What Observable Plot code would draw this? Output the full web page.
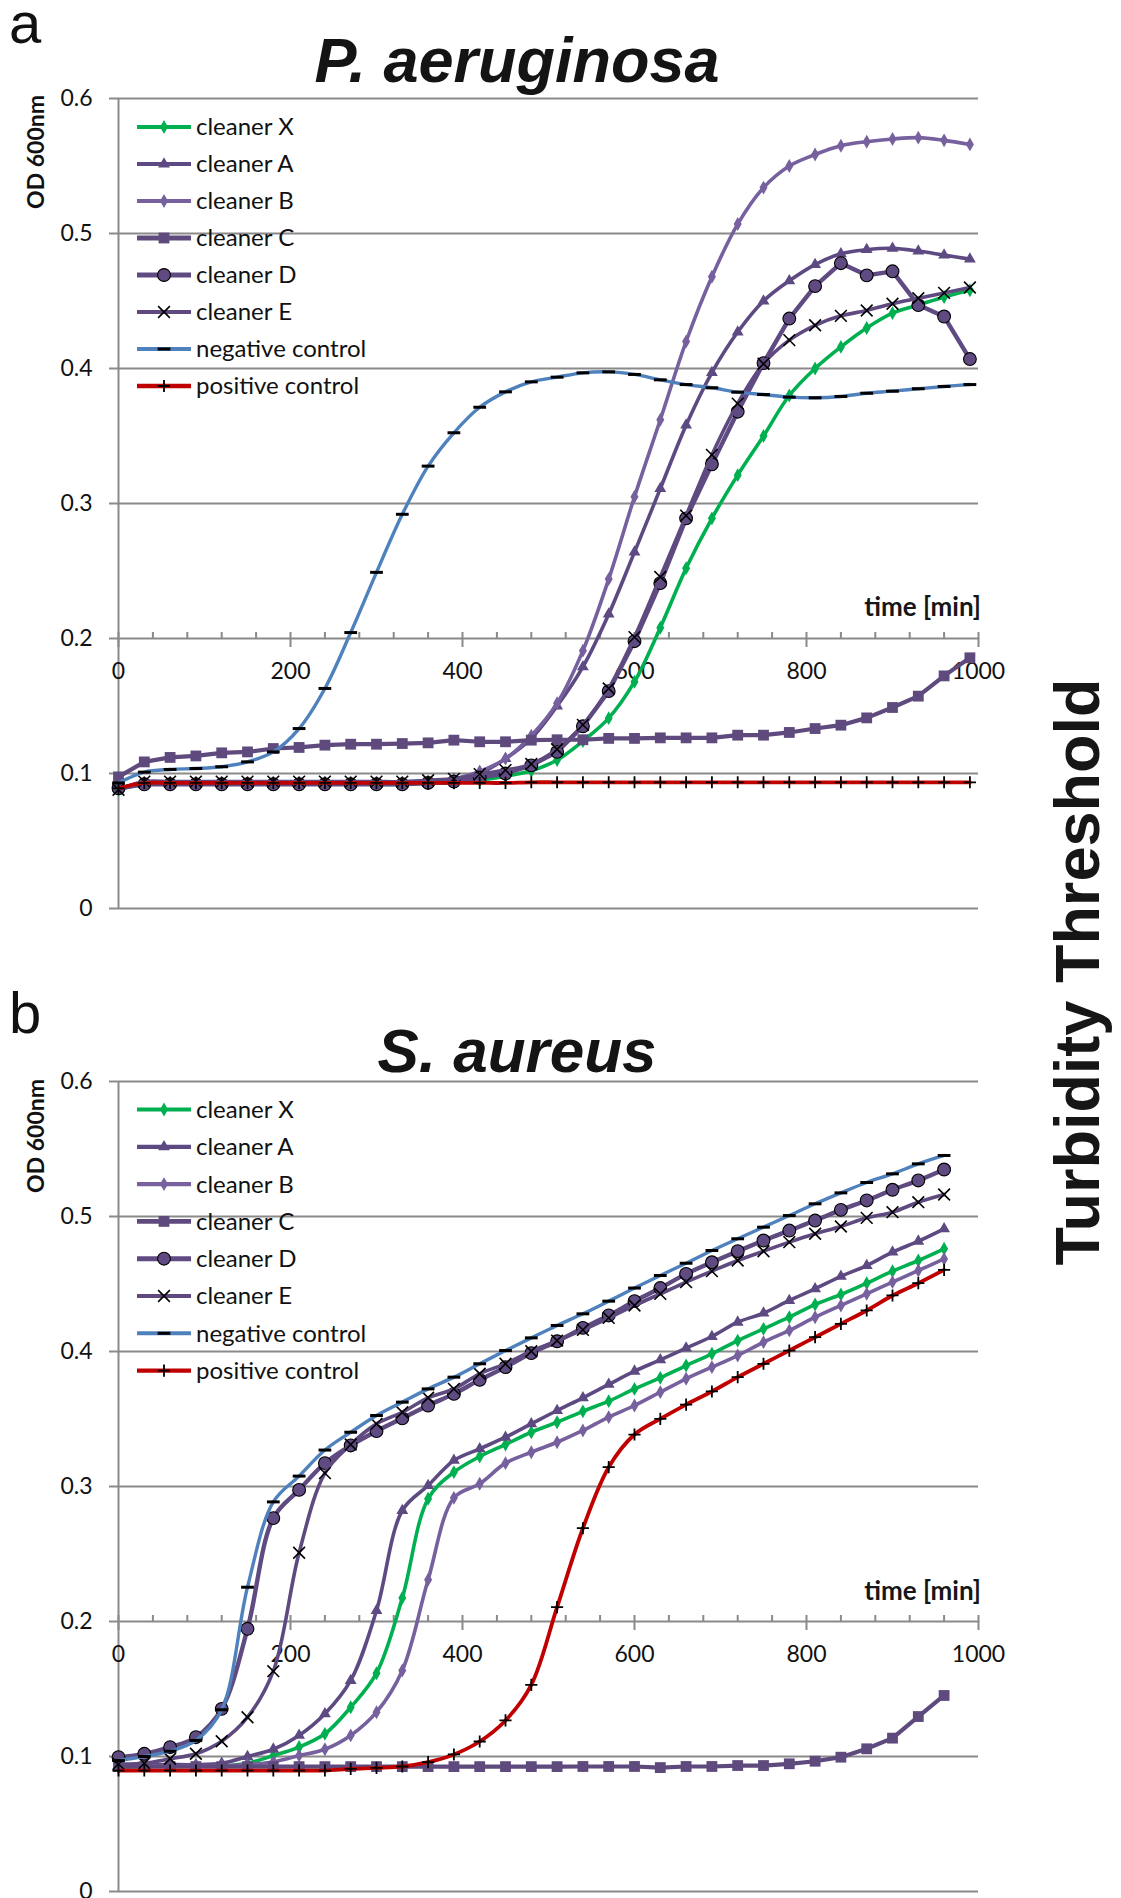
<!DOCTYPE html>
<html><head><meta charset="utf-8">
<script src="https://cdn.jsdelivr.net/npm/d3@7"></script>
<script src="https://cdn.jsdelivr.net/npm/@observablehq/plot@0.6"></script>
<style>
body{margin:0;background:#fff;}
#page{position:relative;width:1121px;height:1898px;overflow:hidden;background:#fff;}
#page > svg{position:absolute;}
</style></head><body><div id="page"></div>
<script>
// ---------------- data ----------------
const timesA = [0,30,60,90,120,150,180,210,240,270,300,330,360,390,420,450,480,510,540,570,600,630,660,690,720,750,780,810,840,870,900,930,960,990];
const timesB = [0,30,60,90,120,150,180,210,240,270,300,330,360,390,420,450,480,510,540,570,600,630,660,690,720,750,780,810,840,870,900,930,960];
const seriesNames = ["cleaner X","cleaner A","cleaner B","cleaner C","cleaner D","cleaner E","negative control","positive control"];
const yTickValues = [0,0.1,0.2,0.3,0.4,0.5,0.6];
const yTickLabels = ["0","0.1","0.2","0.3","0.4","0.5","0.6"];
const xTickValues = [0,200,400,600,800,1000];
const xTickLabels = ["0","200","400","600","800","1000"];
const xMinorTicks = [0,40,80,120,160,200,240,280,320,360,400,440,480,520,560,600,640,680,720,760,800,840,880,920,960,1000];

// panel a: P. aeruginosa
const aCleanerX = [0.088,0.092,0.092,0.092,0.092,0.092,0.092,0.092,0.092,0.092,0.092,0.092,0.093,0.093,0.095,0.098,0.102,0.110,0.124,0.141,0.168,0.208,0.252,0.289,0.321,0.350,0.380,0.400,0.416,0.430,0.441,0.447,0.453,0.458];
const aCleanerA = [0.089,0.093,0.093,0.093,0.093,0.093,0.093,0.093,0.093,0.093,0.093,0.093,0.094,0.095,0.100,0.111,0.126,0.150,0.179,0.218,0.264,0.311,0.358,0.397,0.427,0.450,0.465,0.477,0.485,0.488,0.489,0.487,0.484,0.481];
const aCleanerB = [0.089,0.093,0.093,0.093,0.093,0.093,0.093,0.093,0.093,0.093,0.093,0.093,0.094,0.096,0.1015,0.111,0.128,0.152,0.191,0.244,0.305,0.362,0.420,0.468,0.507,0.534,0.550,0.5585,0.565,0.568,0.570,0.571,0.569,0.566];
const aCleanerC = [0.0975,0.1086,0.1119,0.113,0.1153,0.116,0.1185,0.1193,0.121,0.1217,0.1217,0.1222,0.1227,0.1247,0.1235,0.1235,0.1247,0.125,0.125,0.126,0.126,0.1264,0.1264,0.1264,0.1284,0.1284,0.1304,0.1333,0.1358,0.1412,0.1489,0.1573,0.1723,0.1857];
const aCleanerD = [0.089,0.092,0.092,0.092,0.092,0.092,0.092,0.092,0.092,0.092,0.092,0.092,0.093,0.094,0.097,0.100,0.106,0.116,0.135,0.161,0.198,0.241,0.289,0.329,0.368,0.404,0.437,0.461,0.478,0.469,0.472,0.447,0.4385,0.407];
const aCleanerE = [0.088,0.094,0.094,0.094,0.094,0.094,0.094,0.094,0.094,0.094,0.094,0.094,0.095,0.096,0.0995,0.1025,0.107,0.118,0.136,0.163,0.201,0.2456,0.291,0.336,0.374,0.4035,0.421,0.432,0.439,0.443,0.448,0.452,0.456,0.460];
const aNegative = [0.093,0.101,0.103,0.1037,0.105,0.1086,0.116,0.1333,0.163,0.2044,0.249,0.292,0.3277,0.3524,0.3713,0.3827,0.3901,0.3936,0.3968,0.3975,0.3956,0.3916,0.3881,0.3857,0.3825,0.3807,0.3788,0.3783,0.3793,0.3817,0.3832,0.385,0.3867,0.3881];
const aPositive = [0.089,0.093,0.093,0.093,0.093,0.093,0.093,0.093,0.093,0.093,0.093,0.093,0.093,0.093,0.093,0.093,0.0935,0.0935,0.0935,0.0935,0.0935,0.0935,0.0935,0.0935,0.0935,0.0935,0.0935,0.0935,0.0935,0.0935,0.0935,0.0935,0.0935,0.0935];

// panel b: S. aureus
const bCleanerX = [0.092,0.093,0.093,0.093,0.093,0.095,0.1007,0.107,0.1168,0.1365,0.1617,0.2175,0.2909,0.3106,0.3222,0.3311,0.3402,0.3476,0.3557,0.3632,0.3723,0.3805,0.3896,0.3983,0.4081,0.4168,0.4254,0.4348,0.4422,0.4506,0.4595,0.4674,0.4761];
const bCleanerA = [0.093,0.094,0.094,0.094,0.095,0.100,0.1054,0.1156,0.1316,0.1563,0.2081,0.2822,0.3007,0.3193,0.3279,0.3365,0.3464,0.3563,0.3657,0.3756,0.3854,0.3938,0.4025,0.4111,0.4217,0.4284,0.4378,0.4464,0.4556,0.4637,0.4736,0.4817,0.4909];
const bCleanerB = [0.092,0.093,0.093,0.093,0.093,0.094,0.096,0.1007,0.1054,0.1156,0.1328,0.1637,0.2309,0.2916,0.302,0.3173,0.3254,0.3328,0.3415,0.3514,0.36,0.3699,0.3798,0.3884,0.397,0.4069,0.4156,0.4254,0.4341,0.4427,0.4514,0.46,0.4686];
const bCleanerC = [0.0925,0.0925,0.0925,0.0925,0.0925,0.0925,0.0925,0.0925,0.0925,0.0925,0.0925,0.0925,0.0925,0.0925,0.0925,0.0925,0.0925,0.0925,0.0926,0.0926,0.0926,0.0918,0.0926,0.0926,0.0933,0.0933,0.0946,0.0965,0.0995,0.1057,0.1136,0.1296,0.1452];
const bCleanerD = [0.0995,0.102,0.1069,0.1143,0.1353,0.1946,0.2766,0.2975,0.3173,0.3304,0.341,0.3505,0.36,0.3686,0.379,0.3884,0.3988,0.4076,0.4175,0.4267,0.4373,0.447,0.4575,0.4661,0.4743,0.4822,0.4896,0.497,0.5049,0.5119,0.5198,0.5267,0.5348];
const bCleanerE = [0.0945,0.095,0.0983,0.102,0.1113,0.1291,0.1632,0.2509,0.3099,0.3311,0.3464,0.355,0.3657,0.3723,0.3835,0.3909,0.4002,0.4081,0.416,0.4249,0.4341,0.4427,0.4514,0.4595,0.4674,0.4743,0.481,0.4872,0.4926,0.499,0.5032,0.5106,0.5163];
const bNegative = [0.097,0.100,0.1039,0.1119,0.1346,0.2254,0.2886,0.3077,0.327,0.3402,0.3526,0.3625,0.3723,0.381,0.3909,0.4007,0.4101,0.4193,0.4279,0.4373,0.447,0.4563,0.4654,0.4748,0.4835,0.4921,0.5007,0.5094,0.5175,0.5252,0.5316,0.539,0.5452];
const bPositive = [0.0896,0.0896,0.0896,0.0896,0.0896,0.0896,0.0896,0.0896,0.0896,0.0908,0.0916,0.0926,0.0958,0.1015,0.1111,0.1267,0.1531,0.2106,0.2691,0.3143,0.3385,0.3501,0.3607,0.3704,0.381,0.3909,0.4007,0.4106,0.4205,0.4304,0.4415,0.4506,0.4605];

// ---------------- styles ----------------
const GRID = "#8a8a8a";
const dashSymbol = {draw(ctx, size){ const r = Math.sqrt(size) * 0.6; ctx.moveTo(-r, 0); ctx.lineTo(r, 0); }};
const seriesStyles = [
  {color:"#00b050", width:3.6, symbol:"diamond", d3sym:d3.symbolDiamond, r:4.2, fill:"#00b050", stroke:"none", sw:0},
  {color:"#5e4a82", width:3.6, symbol:"triangle", d3sym:d3.symbolTriangle, r:4.4, fill:"#5e4a82", stroke:"none", sw:0},
  {color:"#76609e", width:3.6, symbol:"diamond", d3sym:d3.symbolDiamond, r:4.2, fill:"#76609e", stroke:"none", sw:0},
  {color:"#5f4a7e", width:4.2, symbol:"square", d3sym:d3.symbolSquare, r:6.1, fill:"#5f4a7e", stroke:"none", sw:0},
  {color:"#5f4a82", width:4.4, symbol:"circle", d3sym:d3.symbolCircle, r:6.4, fill:"#5f4b82", stroke:"#000", sw:1.1},
  {color:"#5f4a80", width:3.6, symbol:"times", d3sym:d3.symbolTimes, r:5.4, fill:"none", stroke:"#000", sw:1.6},
  {color:"#4f81bd", width:3.4, symbol:dashSymbol, d3sym:dashSymbol, r:6.0, fill:"none", stroke:"#000", sw:3},
  {color:"#c00000", width:3.8, symbol:"plus", d3sym:d3.symbolPlus, r:4.0, fill:"none", stroke:"#000", sw:1.8}
];

function panel({times, values, curves, top, height, marginBottom}) {
  const marginTop = 98;
  const inner = height - marginTop - marginBottom;
  const axisOffset = inner * 0.2 / 0.6;
  const marks = [
    Plot.gridY(yTickValues, {stroke: GRID, strokeOpacity: 1, strokeWidth: 2}),
    Plot.ruleX([0], {stroke: GRID, strokeWidth: 2}),
    Plot.axisY(yTickValues, {anchor: "left", tickSize: 9, tickPadding: 17, stroke: GRID, strokeWidth: 2, fill: "#111", fontSize: 23,
      tickFormat: d => yTickLabels[yTickValues.indexOf(d)], label: null}),
    Plot.axisX(xMinorTicks, {anchor: "top", dy: inner - axisOffset, tickSize: 7, stroke: GRID, strokeWidth: 2, tickFormat: () => "", label: null}),
    Plot.axisX(xTickValues, {anchor: "bottom", dy: -axisOffset, tickSize: 9, tickPadding: 15, stroke: GRID, strokeWidth: 2, fill: "#111", fontSize: 23,
      tickFormat: d => xTickLabels[xTickValues.indexOf(d)], label: null})
  ];
  values.forEach((vals, k) => {
    const st = seriesStyles[k];
    const rows = times.map((t, i) => ({t, v: vals[i], s: seriesNames[k]}));
    marks.push(Plot.line(rows, {x: "t", y: "v", stroke: st.color, strokeWidth: st.width, curve: curves[k]}));
    marks.push(Plot.dot(rows, {x: "t", y: "v", symbol: st.symbol, r: st.r, fill: st.fill, stroke: st.stroke, strokeWidth: st.sw}));
  });
  const svg = Plot.plot({
    width: 1121, height, marginLeft: 118, marginRight: 143, marginTop, marginBottom,
    x: {domain: [0, 1000]}, y: {domain: [0, 0.6]},
    style: {fontFamily: "Lato, sans-serif", fontSize: "23px", color: "#111", background: "transparent", overflow: "visible"},
    marks
  });
  svg.style.top = top + "px";
  svg.style.left = "0px";
  return svg;
}

const page = document.getElementById("page");
const cr = "catmull-rom";
page.appendChild(panel({times: timesA,
  values: [aCleanerX, aCleanerA, aCleanerB, aCleanerC, aCleanerD, aCleanerE, aNegative, aPositive],
  curves: [cr, cr, cr, "linear", "linear", cr, cr, cr], top: 0, height: 930, marginBottom: 22}));
page.appendChild(panel({times: timesB,
  values: [bCleanerX, bCleanerA, bCleanerB, bCleanerC, bCleanerD, bCleanerE, bNegative, bPositive],
  curves: [cr, cr, cr, "linear", cr, cr, cr, cr], top: 983, height: 915, marginBottom: 7}));

// ---------------- overlay text & legends ----------------
const ov = d3.create("svg").attr("width", 1121).attr("height", 1898)
  .style("top", "0px").style("left", "0px").style("pointer-events", "none");
const HEAD = "'Liberation Sans', Arial, sans-serif";
ov.append("text").attr("x", 9).attr("y", 43).attr("font-family", HEAD).attr("font-size", 58).attr("fill", "#111").text("a");
ov.append("text").attr("x", 9).attr("y", 1033).attr("font-family", HEAD).attr("font-size", 58).attr("fill", "#111").text("b");
ov.append("text").attr("x", 517).attr("y", 82).attr("text-anchor", "middle").attr("font-family", HEAD)
  .attr("font-weight", "bold").attr("font-style", "italic").attr("font-size", 63).attr("fill", "#141414").text("P. aeruginosa");
ov.append("text").attr("x", 517).attr("y", 1072).attr("text-anchor", "middle").attr("font-family", HEAD)
  .attr("font-weight", "bold").attr("font-style", "italic").attr("font-size", 62).attr("fill", "#141414").text("S. aureus");
[[152], [1136]].forEach(([cy]) => {
  ov.append("text").attr("transform", `translate(44,${cy}) rotate(-90)`).attr("text-anchor", "middle")
    .attr("font-family", "Lato, sans-serif").attr("font-weight", "bold").attr("font-size", 23).attr("fill", "#111").text("OD 600nm");
});
[[616], [1600]].forEach(([by]) => {
  ov.append("text").attr("x", 981).attr("y", by).attr("text-anchor", "end")
    .attr("font-family", "Lato, sans-serif").attr("font-weight", "bold").attr("font-size", 26).attr("fill", "#161616").text("time [min]");
});
ov.append("text").attr("transform", "translate(1099,972) rotate(-90)").attr("text-anchor", "middle")
  .attr("font-family", HEAD).attr("font-weight", "bold").attr("font-size", 63).attr("fill", "#161616").text("Turbidity Threshold");

function legend(y0, step) {
  seriesNames.forEach((name, i) => {
    const st = seriesStyles[i];
    const y = y0 + i * step;
    const g = ov.append("g");
    g.append("line").attr("x1", 137).attr("x2", 191).attr("y1", y).attr("y2", y)
      .attr("stroke", st.color).attr("stroke-width", st.width + 0.6);
    g.append("path").attr("transform", `translate(164,${y})`)
      .attr("d", d3.symbol(st.d3sym, Math.PI * st.r * st.r)())
      .attr("fill", st.fill).attr("stroke", st.stroke === "none" ? null : st.stroke).attr("stroke-width", st.sw);
    g.append("text").attr("x", 196).attr("y", y).attr("dy", "0.35em")
      .attr("font-family", "Lato, sans-serif").attr("font-size", 24).attr("fill", "#111").text(name);
  });
}
legend(127, 37);
legend(1109.5, 37.3);
page.appendChild(ov.node());
</script></body></html>
